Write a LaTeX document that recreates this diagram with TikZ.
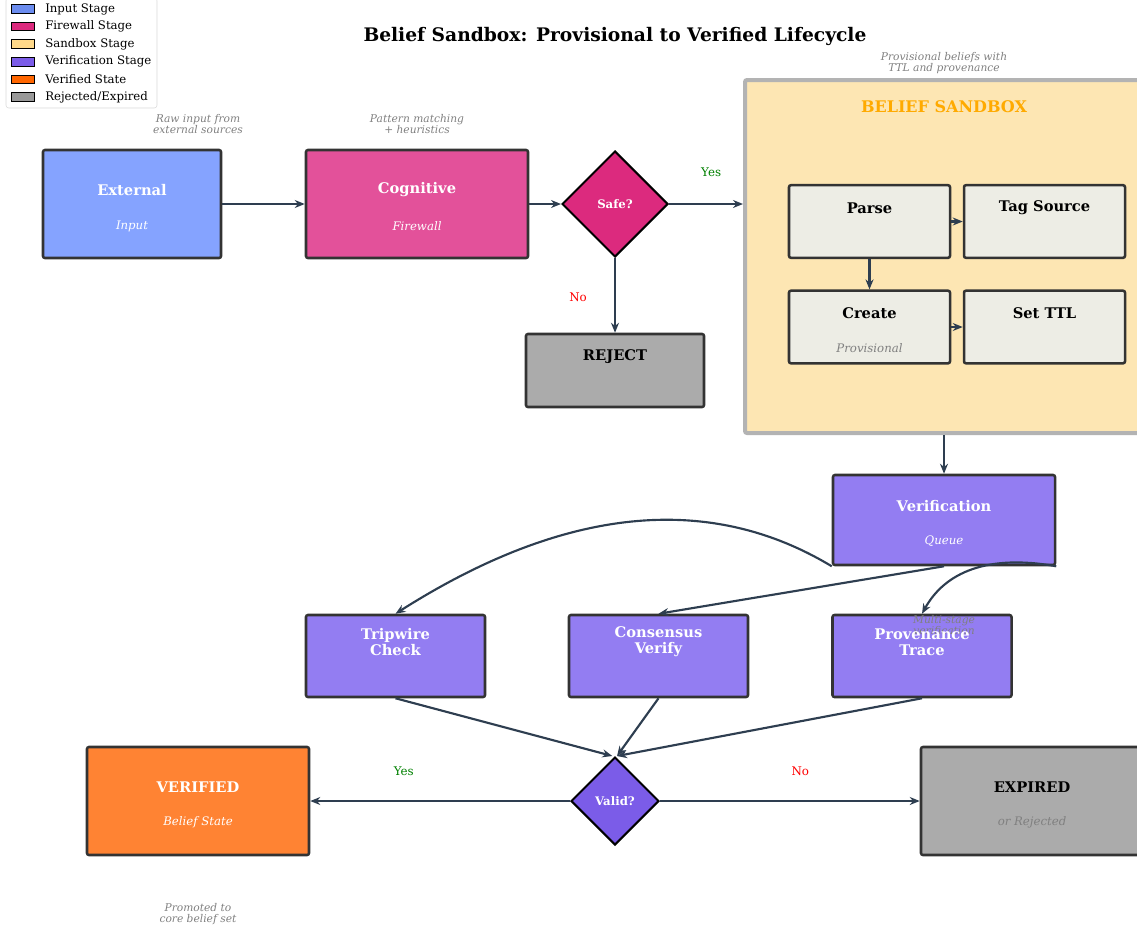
\documentclass[tikz,border=0pt]{standalone}
\usepackage{fontspec}
\setmainfont{DejaVu Serif}
\usepackage{tikz}
\usetikzlibrary{shapes.geometric, arrows.meta, positioning, calc}

\definecolor{edgecol}{HTML}{2E3E50}
\definecolor{boxline}{HTML}{333333}
\definecolor{inputcol}{HTML}{85A3FF}
\definecolor{fwcol}{HTML}{E3519A}
\definecolor{fwdark}{HTML}{DC2A7E}
\definecolor{sandcol}{HTML}{FDE6B3}
\definecolor{sandline}{HTML}{B3B3B3}
\definecolor{innercol}{HTML}{EDEDE5}
\definecolor{vercol}{HTML}{937DF2}
\definecolor{verdark}{HTML}{7B5CE8}
\definecolor{okcol}{HTML}{FF8333}
\definecolor{rejcol}{HTML}{ABABAB}
\definecolor{sandtext}{HTML}{FFAA00}
\definecolor{notecol}{HTML}{808080}
\definecolor{yescol}{HTML}{008000}
\definecolor{nocol}{HTML}{FF0000}

\begin{document}
\begin{tikzpicture}[
            x=0.75pt, y=-0.75pt,
            stagebox/.style={rectangle, draw=boxline, line width=1.9pt, rounded corners=1.5pt, inner sep=0pt},
            innerbox/.style={stagebox, fill=innercol, minimum width=120.75pt, minimum height=54.5pt},
            midbox/.style={stagebox, fill=vercol, minimum width=134.25pt, minimum height=61.5pt},
            decision/.style={diamond, aspect=1, draw=black, line width=1.5pt, inner sep=0pt, text=white, font=\fontsize{8.8}{10}\selectfont\bfseries},
            head/.style={font=\fontsize{11}{13}\selectfont\bfseries, align=center},
            twoline/.style={head, text=white, font=\fontsize{11}{12}\selectfont\bfseries},
            sub/.style={font=\fontsize{8.8}{10}\selectfont\itshape},
            note/.style={font=\fontsize{8}{8.6}\selectfont\itshape, text=notecol, align=center},
            arrow/.style={-{Stealth[length=7.5pt, width=6pt]}, line width=1.6pt, color=edgecol},
            answer/.style={font=\fontsize{8.9}{10}\selectfont}
        ]
            \useasboundingbox (0,0) rectangle (1137,932);

            \node[font=\fontsize{14}{16}\selectfont\bfseries] (title) at (615,36) {Belief Sandbox: Provisional to Verified Lifecycle};

            % legend
            \draw[draw=black!15, fill=white, rounded corners=2pt] (6,-2) rectangle (157,108);
            \foreach \col/\name [count=\i] in {6B8CEF/{Input Stage}, DC2A7E/{Firewall Stage}, FFD98A/{Sandbox Stage}, 7B5CE8/{Verification Stage}, FF6600/{Verified State}, 999999/{Rejected/Expired}} {
                \definecolor{legcol}{HTML}{\col}
                \node[rectangle, draw=black, line width=0.8pt, fill=legcol, minimum width=17pt, minimum height=6.5pt, inner sep=0pt] (leg\i) at (23,{-8.6+17.6*\i}) {};
                \node[anchor=west, font=\fontsize{8.8}{10}\selectfont, inner sep=0pt] (legtext\i) at (45,{-8.6+17.6*\i}) {\name};
            }

            % input and firewall
            \node[stagebox, fill=inputcol, minimum width=133.5pt, minimum height=81pt] (ext) at (132,204) {};
            \node[head, text=white] (ext-t) at (132,190) {External};
            \node[sub, text=white] (ext-s) at (132,226) {Input};
            \node[note] (ext-n) at (198,124) {Raw input from\\external sources};

            \node[stagebox, fill=fwcol, minimum width=166.5pt, minimum height=81pt] (cog) at (417,204) {};
            \node[head, text=white] (cog-t) at (417,190) {Cognitive};
            \node[sub, text=white] (cog-s) at (417,226) {Firewall};
            \node[note] (cog-n) at (417,124) {Pattern matching\\+ heuristics};

            \node[decision, fill=fwdark, minimum width=79.5pt, minimum height=79.5pt] (safe) at (615,204) {Safe?};

            \node[stagebox, fill=rejcol, minimum width=133.5pt, minimum height=54.75pt] (rej) at (615,370.5) {};
            \node[head] (rej-t) at (615,357) {REJECT};

            % sandbox
            \node[rectangle, draw=sandline, line width=3pt, fill=sandcol, rounded corners=1.5pt, minimum width=298.5pt, minimum height=264.75pt] (sandbox) at (944,256.5) {};
            \node[font=\fontsize{12}{14}\selectfont\bfseries, text=sandtext] (sandbox-t) at (944,107) {BELIEF SANDBOX};
            \node[note] (sandbox-n) at (944,63) {Provisional beliefs with\\TTL and provenance};

            \node[innerbox] (parse) at (869.5,221.5) {};
            \node[head] (parse-t) at (869.5,208) {Parse};
            \node[innerbox] (tag) at (1044.5,221.5) {};
            \node[head] (tag-t) at (1044.5,208) {Tag Source};
            \node[innerbox] (create) at (869.5,327) {};
            \node[head] (create-t) at (869.5,313) {Create};
            \node[sub, text=notecol] (create-s) at (869.5,348) {Provisional};
            \node[innerbox] (ttl) at (1044.5,327) {};
            \node[head] (ttl-t) at (1044.5,313) {Set TTL};

            % verification
            \node[stagebox, fill=vercol, minimum width=166.5pt, minimum height=67.5pt] (ver) at (944,520) {};
            \node[head, text=white] (ver-t) at (944,506) {Verification};
            \node[sub, text=white] (ver-s) at (944,541) {Queue};

            \node[midbox] (trip) at (395.5,656) {};
            \node[midbox] (cons) at (658.5,656) {};
            \node[midbox] (prov) at (922,656) {};
            \node[note] (ver-n) at (944,626) {Multi-stage\\verification};
            \node[twoline] (trip-t) at (395.5,642) {Tripwire\\Check};
            \node[twoline] (cons-t) at (658.5,642) {Consensus\\Verify};
            \node[twoline] (prov-t) at (922,642) {Provenance\\Trace};

            \node[decision, fill=verdark, minimum width=66pt, minimum height=66pt] (valid) at (615,801) {Valid?};

            % outcomes
            \node[stagebox, fill=okcol, minimum width=166.5pt, minimum height=81pt] (verified) at (198,801) {};
            \node[head, text=white] (verified-t) at (198,787) {VERIFIED};
            \node[sub, text=white] (verified-s) at (198,822) {Belief State};
            \node[note] (verified-n) at (198,914) {Promoted to\\core belief set};

            \node[stagebox, fill=rejcol, minimum width=166.5pt, minimum height=81pt] (expired) at (1032,801) {};
            \node[head] (expired-t) at (1032,787) {EXPIRED};
            \node[sub, text=notecol] (expired-s) at (1032,822) {or Rejected};

            % connectors
            \draw[arrow] (ext) -- (cog);
            \draw[arrow] (cog) -- (safe);
            \draw[arrow] (safe.east) -- (safe.east -| sandbox.west) node[pos=0.57, above=16pt, answer, text=yescol] (yes1) {Yes};
            \draw[arrow] (safe.south) -- (rej.north) node[pos=0.52, left=17pt, answer, text=nocol] (no1) {No};
            \draw[arrow] (parse) -- (tag);
            \draw[arrow] (parse) -- (create);
            \draw[arrow] (create) -- (ttl);
            \draw[arrow] (sandbox.south) -- (ver.north);
            \draw[arrow] (ver.south west) .. controls (707,491) and (562,508) .. (trip.north);
            \draw[arrow] (ver.south) -- (cons.north);
            \draw[arrow] (ver.south east) .. controls (988,554) and (945,572) .. (prov.north);
            \draw[arrow] (trip.south) -- ([xshift=-2pt]valid.north);
            \draw[arrow] (cons.south) -- ([xshift=1.5pt]valid.north);
            \draw[arrow] (prov.south) -- ([xshift=1.5pt]valid.north);
            \draw[arrow] (valid.west) -- (verified.east) node[pos=0.64, above=15pt, answer, text=yescol] (yes2) {Yes};
            \draw[arrow] (valid.east) -- (expired.west) node[pos=0.54, above=15pt, answer, text=nocol] (no2) {No};
        \end{tikzpicture}
\end{document}
